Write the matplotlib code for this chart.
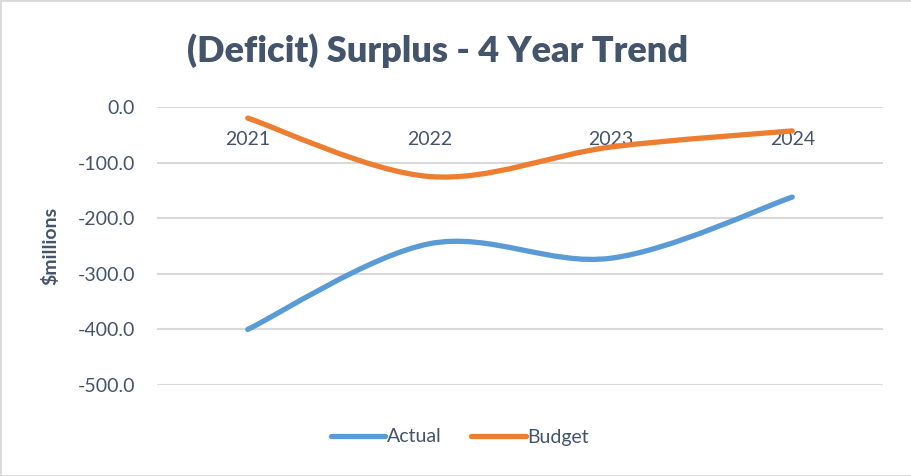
import matplotlib.pyplot as plt
import numpy as np
from matplotlib.path import Path
from matplotlib.patches import PathPatch, Rectangle
from matplotlib.lines import Line2D

plt.rcParams['font.family'] = ['Lato', 'DejaVu Sans']

years = ["2021", "2022", "2023", "2024"]
actual = [-400.0, -246.0, -272.0, -162.0]
budget = [-20.0, -125.0, -72.0, -43.0]
yticks = [0, -100, -200, -300, -400, -500]

txt = '#44546A'
c_act = '#5B9BD5'
c_bud = '#ED7D31'


def smooth_path(x, y):
    # excel-like smoothed line: catmull-rom as cubic bezier
    pts = np.column_stack([x, y]).astype(float)
    n = len(pts)
    verts = [pts[0]]
    codes = [Path.MOVETO]
    for i in range(n - 1):
        p0 = pts[max(i - 1, 0)]
        p1 = pts[i]
        p2 = pts[i + 1]
        p3 = pts[min(i + 2, n - 1)]
        c1 = p1 + (p2 - p0) / 6.0
        c2 = p2 - (p3 - p1) / 6.0
        verts += [c1, c2, p2]
        codes += [Path.CURVE4] * 3
    return Path(verts, codes)


fig = plt.figure(figsize=(9.12, 4.76), dpi=100)
ax = fig.add_axes([157/912, 1-385/476, 726/912, 278/476])
ax.spines['bottom'].set_position(('data', 0))

x = np.arange(len(years))
for vals, col in [(actual, c_act), (budget, c_bud)]:
    p = PathPatch(smooth_path(x, vals), facecolor='none', edgecolor=col,
                  lw=3.8, capstyle='round', joinstyle='round', zorder=3)
    ax.add_patch(p)

ax.set_xlim(-0.5, 3.5)
ax.set_ylim(-500, 0)
ax.set_yticks(yticks)
ax.set_yticklabels(["%.1f" % v for v in yticks])
ax.set_xticks(x)
ax.set_xticklabels(years)
for s in ax.spines.values():
    s.set_visible(False)
ax.tick_params(axis='both', labelsize=14, labelcolor=txt, length=0)
ax.tick_params(axis='x', pad=17)
ax.tick_params(axis='y', pad=16)
ax.grid(axis='y', color='#D9D9D9', lw=1.5)
ax.set_axisbelow(True)
ax.set_ylabel("$millions", color=txt, fontsize=14, fontweight='bold')
ax.yaxis.set_label_coords(-0.135, 0.5)

fig.text(438/912, 1-51/476, "(Deficit) Surplus - 4 Year Trend", color=txt,
         fontsize=26, fontweight='heavy', ha='center', va='center')

handles = [Line2D([], [], color=c_act, lw=3.8, solid_capstyle='round'),
           Line2D([], [], color=c_bud, lw=3.8, solid_capstyle='round')]
fig.legend(handles, ["Actual", "Budget"], loc='center', bbox_to_anchor=(460/912, 1-437/476),
           ncol=2, frameon=False, fontsize=14, labelcolor=txt, handlelength=2.8,
           handletextpad=0.1, columnspacing=1.5)

fig.patches.append(Rectangle((0, 0), 1, 1, transform=fig.transFigure, fill=False,
                             edgecolor='#D9D9D9', lw=2))

plt.savefig("out.png")
